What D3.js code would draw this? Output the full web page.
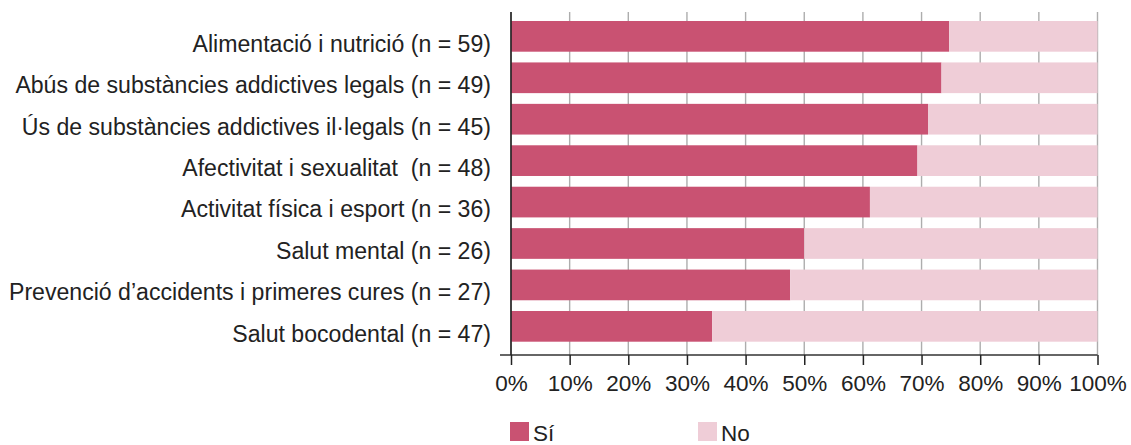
<!DOCTYPE html>
<html>
<head>
<meta charset="utf-8">
<script src="https://cdn.jsdelivr.net/npm/d3@7"></script>
<style>
  html, body { margin: 0; padding: 0; background: #fff; }
  svg { display: block; }
  text { font-family: "Liberation Sans", Arial, Helvetica, sans-serif; fill: #222; }
</style>
</head>
<body>
<svg id="chart" width="1131" height="445"></svg>
<script>
// Health-education topics, sample sizes and share answering "Sí" (%)
const categories = [
  "Alimentació i nutrició",
  "Abús de substàncies addictives legals",
  "Ús de substàncies addictives il·legals",
  "Afectivitat i sexualitat ",
  "Activitat física i esport",
  "Salut mental",
  "Prevenció d’accidents i primeres cures",
  "Salut bocodental"
];
const sampleSizes = [59, 49, 45, 48, 36, 26, 27, 47];
const siValues = [74.7, 73.4, 71.1, 69.3, 61.2, 50.0, 47.6, 34.3];
const noValues = siValues.map(v => 100 - v);
const tickValues = [0, 10, 20, 30, 40, 50, 60, 70, 80, 90, 100];
const seriesNames = ["Sí", "No"];
const seriesColors = ["#c95272", "#efcdd7"];

const svg = d3.select("#chart");

const x = d3.scaleLinear().domain([0, 100]).range([511, 1097.5]);
const y = d3.scaleBand().domain(categories).range([21, 341.7]).paddingInner(0.259).paddingOuter(0);
const gridTop = 12, axisY = 355;

// vertical gridlines
svg.append("g")
  .selectAll("line")
  .data(tickValues)
  .join("line")
  .attr("x1", d => x(d)).attr("x2", d => x(d))
  .attr("y1", gridTop).attr("y2", axisY)
  .attr("stroke", "#adadad")
  .attr("stroke-width", 1.4);

// stacked bars
const rows = categories.map((c, i) => ({ cat: c, si: siValues[i], no: noValues[i] }));
const stack = d3.stack().keys(["si", "no"])(rows);
svg.append("g")
  .selectAll("g")
  .data(stack)
  .join("g")
  .attr("fill", (d, i) => seriesColors[i])
  .selectAll("rect")
  .data(d => d)
  .join("rect")
  .attr("x", d => x(d[0]))
  .attr("width", d => x(d[1]) - x(d[0]))
  .attr("y", d => y(d.data.cat))
  .attr("height", y.bandwidth());

// x axis
const xAxis = d3.axisBottom(x)
  .tickValues(tickValues)
  .tickFormat(d => d + "%")
  .tickSize(10)
  .tickPadding(10)
  .tickSizeOuter(0);
const gx = svg.append("g").attr("transform", `translate(0,${axisY})`).call(xAxis);
gx.select(".domain").attr("stroke", "#333").attr("stroke-width", 1.6)
  .attr("d", `M${x(0) - 11},0H${x(100)}`);
gx.selectAll(".tick line").attr("stroke", "#222").attr("stroke-width", 1.5);
gx.selectAll(".tick text")
  .attr("fill", "#222")
  .style("font-size", "22.5px")
  .style("font-family", "'Liberation Sans', Arial, sans-serif");

// vertical axis line
svg.append("line")
  .attr("x1", x(0)).attr("x2", x(0))
  .attr("y1", gridTop).attr("y2", axisY)
  .attr("stroke", "#222").attr("stroke-width", 1.6);

// category labels
svg.append("g")
  .selectAll("text")
  .data(categories)
  .join("text")
  .attr("x", 491)
  .attr("y", d => y(d) + y.bandwidth() / 2 + 15.4)
  .attr("text-anchor", "end")
  .style("font-size", "23.1px")
  .style("white-space", "pre")
  .text((d, i) => `${d} (n = ${sampleSizes[i]})`);

// legend
const legendX = [510, 698];
const lg = svg.append("g")
  .selectAll("g")
  .data(seriesNames)
  .join("g")
  .attr("transform", (d, i) => `translate(${legendX[i]},422)`);
lg.append("rect").attr("width", 19).attr("height", 19).attr("fill", (d, i) => seriesColors[i]);
lg.append("text").attr("x", 23).attr("y", 19).style("font-size", "22.5px").text(d => d);
</script>
</body>
</html>
